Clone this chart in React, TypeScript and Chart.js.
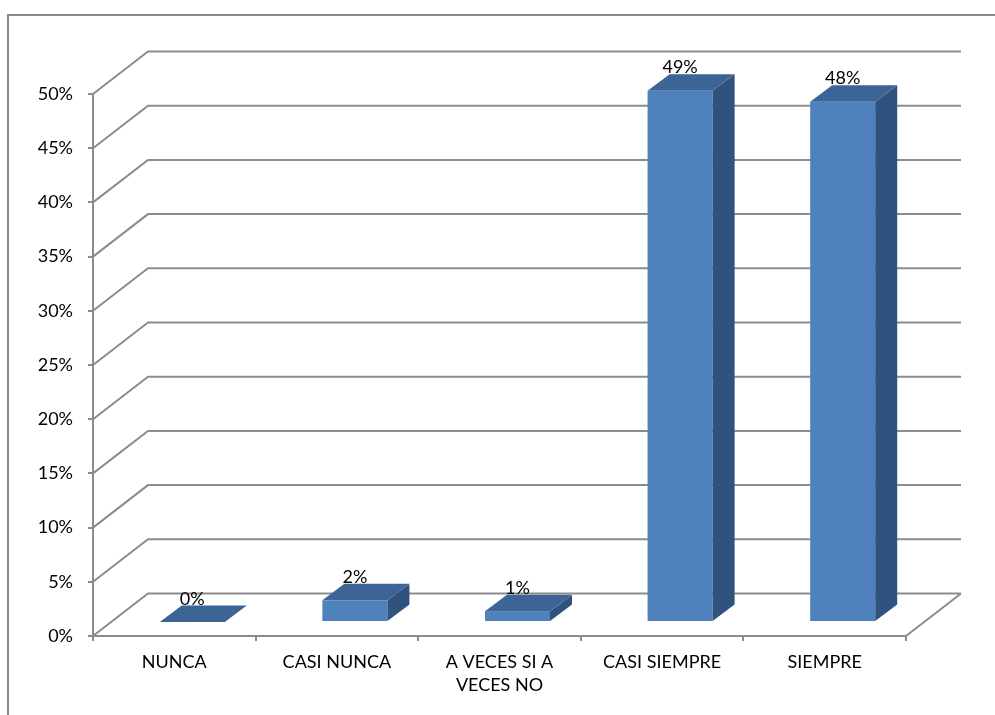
import React, { useEffect, useRef } from 'react';
import Chart from 'chart.js/auto';

// ---- data ----
const categories: (string | string[])[] = ['NUNCA', 'CASI NUNCA', ['A VECES SI A', 'VECES NO'], 'CASI SIEMPRE', 'SIEMPRE'];
const percentages: number[] = [0, 2, 1, 49, 48];
const yTickValues: number[] = [0, 5, 10, 15, 20, 25, 30, 35, 40, 45, 50];
const labelTexts: string[] = ['0%', '2%', '1%', '49%', '48%'];

// ---- style ----
const FONT = 'Lato';
const GRID = '#8c8c8c';
const FRONT = '#4F81BD';
const TOP = '#3C6596';
const SIDE = '#30527E';
const DX = 55; // wall depth
const DY = 42.5;
const FX = 18; // bar front offset into depth
const FY = 14;
const BX = 22; // bar depth
const BY = 16.5;

const threeD = {
  id: 'threeD',
  beforeDraw(chart: any) {
    const { ctx, width, height } = chart;
    ctx.save();
    ctx.strokeStyle = '#8a8a8a';
    ctx.lineWidth = 2;
    ctx.beginPath();
    ctx.moveTo(8, height + 5);
    ctx.lineTo(8, 15);
    ctx.lineTo(width + 5, 15);
    ctx.stroke();
    ctx.restore();
  },
  beforeDatasetsDraw(chart: any) {
    const { ctx, chartArea: a, scales } = chart;
    const y = scales.y;
    ctx.save();
    ctx.strokeStyle = GRID;
    ctx.lineWidth = 2;
    ctx.lineCap = 'butt';
    yTickValues.forEach((v) => {
      const py = y.getPixelForValue(v);
      ctx.beginPath();
      ctx.moveTo(a.left, py);
      ctx.lineTo(a.left + DX, py - DY);
      ctx.lineTo(a.right + DX, py - DY);
      ctx.stroke();
    });
    const p0 = y.getPixelForValue(0);
    ctx.beginPath();
    ctx.moveTo(a.right, p0);
    ctx.lineTo(a.right + DX, p0 - DY);
    ctx.stroke();
    ctx.restore();
  },
  afterDatasetsDraw(chart: any) {
    const { ctx } = chart;
    const meta = chart.getDatasetMeta(0);
    ctx.save();
    meta.data.forEach((bar: any, i: number) => {
      const p = bar.getProps(['x', 'y', 'base', 'width'], true);
      const l = p.x - p.width / 2 + FX;
      const r = p.x + p.width / 2 + FX;
      const t = p.y - FY;
      const b = p.base - FY;
      // front
      if (b - t > 0.5) {
        ctx.fillStyle = FRONT;
        ctx.fillRect(l, t, r - l, b - t);
        // side
        ctx.fillStyle = SIDE;
        ctx.beginPath();
        ctx.moveTo(r, t);
        ctx.lineTo(r + BX, t - BY);
        ctx.lineTo(r + BX, b - BY);
        ctx.lineTo(r, b);
        ctx.closePath();
        ctx.fill();
      }
      // top
      ctx.fillStyle = TOP;
      ctx.beginPath();
      ctx.moveTo(l, t);
      ctx.lineTo(r, t);
      ctx.lineTo(r + BX, t - BY);
      ctx.lineTo(l + BX, t - BY);
      ctx.closePath();
      ctx.fill();
      // label
      ctx.fillStyle = '#000';
      ctx.font = `18px ${FONT}`;
      ctx.textAlign = 'center';
      ctx.textBaseline = 'alphabetic';
      ctx.fillText(labelTexts[i], (l + r) / 2, t - BY - 1);
    });
    ctx.restore();
  },
};

export default function App() {
  const ref = useRef<HTMLCanvasElement | null>(null);
  useEffect(() => {
    if (!ref.current) return;
    const chart = new Chart(ref.current, {
      type: 'bar',
      data: {
        labels: categories as any,
        datasets: [
          {
            data: percentages,
            backgroundColor: 'rgba(0,0,0,0)',
            borderWidth: 0,
            barPercentage: 0.4,
            categoryPercentage: 1,
          },
        ],
      },
      options: {
        responsive: false,
        animation: false,
        devicePixelRatio: 1,
        layout: { padding: { left: 0, top: 94, right: 89, bottom: 0 } },
        plugins: {
          legend: { display: false },
          tooltip: { enabled: false },
          title: { display: false },
        },
        scales: {
          x: {
            afterFit: (s: any) => {
              s.height = 79;
            },
            grid: {
              drawOnChartArea: false,
              drawTicks: true,
              tickLength: 5,
              color: GRID,
              lineWidth: 2,
              offset: true,
            },
            border: { display: true, color: GRID, width: 2 },
            ticks: {
              color: '#000',
              font: { family: FONT, size: 18, lineHeight: 1.3 },
              padding: 9,
              maxRotation: 0,
              minRotation: 0,
              autoSkip: false,
            },
          },
          y: {
            min: 0,
            max: 50,
            afterFit: (s: any) => {
              s.width = 93;
            },
            grid: {
              drawOnChartArea: false,
              drawTicks: true,
              tickLength: 5,
              color: GRID,
              lineWidth: 2,
            },
            border: { display: true, color: GRID, width: 2 },
            ticks: {
              stepSize: 5,
              color: '#000',
              font: { family: FONT, size: 18 },
              padding: 15,
              callback: (v: any) => `${v}%`,
            },
          },
        },
      },
      plugins: [threeD],
    });
    return () => chart.destroy();
  }, []);
  return (
    <div style={{ position: 'absolute', left: 0, top: 0, width: 995, height: 715, background: '#fff' }}>
      <canvas ref={ref} width={995} height={715} style={{ display: 'block', width: 995, height: 715 }} />
    </div>
  );
}
